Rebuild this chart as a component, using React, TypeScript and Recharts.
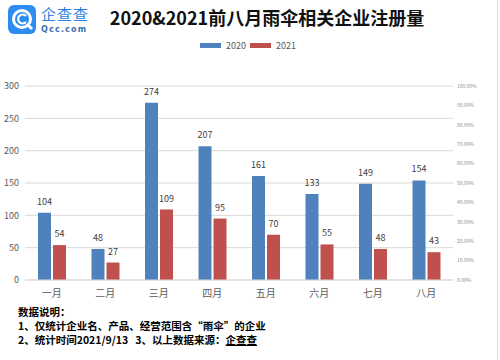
import React from 'react';
import { ComposedChart, Bar, Line, XAxis, YAxis, CartesianGrid, LabelList } from 'recharts';

const months = ['一月', '二月', '三月', '四月', '五月', '六月', '七月', '八月'];
const reg2020 = [104, 48, 274, 207, 161, 133, 149, 154];
const reg2021 = [54, 27, 109, 95, 70, 55, 48, 43];
const leftTicks = [0, 50, 100, 150, 200, 250, 300];
const rightTicks = [0, 0.1, 0.2, 0.3, 0.4, 0.5, 0.6, 0.7, 0.8, 0.9, 1];

const BLUE = '#4f81bd';
const RED = '#c0504d';
const FONT = '"Noto Sans CJK SC", "Noto Sans", sans-serif';

const chartData = months.map((m, i) => ({ month: m, y2020: reg2020[i], y2021: reg2021[i] }));

const Logo = () => (
  <div style={{ position: 'absolute', left: 8, top: 5 }}>
    <svg width={28} height={29}>
      <rect x={0} y={0} width={28} height={29} rx={6} fill="#2d8cf0" />
      <circle cx={14} cy={14} r={8.5} fill="none" stroke="#fff" strokeWidth={3} />
      <path d="M 18 11 A 4.5 4.5 0 1 0 18 17" fill="none" stroke="#fff" strokeWidth={2.2} />
      <line x1={19} y1={19} x2={24} y2={24} stroke="#fff" strokeWidth={3} />
    </svg>
    <div style={{ position: 'absolute', left: 33, top: 0, fontSize: 15, color: '#2d7fe0', fontFamily: FONT, lineHeight: '18px', whiteSpace: 'nowrap', letterSpacing: 1 }}>企查查</div>
    <div style={{ position: 'absolute', left: 33, top: 20, fontSize: 8, fontWeight: 'bold', color: '#3a6fb0', fontFamily: 'DejaVu Sans, sans-serif', lineHeight: '10px', letterSpacing: 1.2, whiteSpace: 'nowrap' }}>Qcc.com</div>
  </div>
);

const LegendItem = ({ color, label, left }: { color: string; label: string; left: number }) => (
  <div style={{ position: 'absolute', left, top: 39, display: 'flex', alignItems: 'center', fontFamily: FONT, fontSize: 9, color: '#595959' }}>
    <span style={{ display: 'inline-block', width: 21, height: 5, background: color, marginRight: 5 }} />
    {label}
  </div>
);

export default function App() {
  return (
    <div style={{ position: 'absolute', left: 0, top: 0, width: 500, height: 360, background: '#fff', overflow: 'hidden', fontFamily: FONT }}>
      <Logo />
      <div style={{ position: 'absolute', left: 0, width: 534, top: 5, textAlign: 'center', fontSize: 18, fontWeight: 'bold', color: '#111', lineHeight: '24px' }}>
        2020&amp;2021前八月雨伞相关企业注册量
      </div>
      <LegendItem color={BLUE} label="2020" left={200} />
      <LegendItem color={RED} label="2021" left={250} />

      <div style={{ position: 'absolute', left: 0, top: 0 }}>
        <ComposedChart width={500} height={360} data={chartData} margin={{ top: 86, right: 0, left: 0, bottom: 60 }} barCategoryGap={12} barGap={2}>
          <CartesianGrid yAxisId="left" vertical={false} stroke="#d9d9d9" />
          <XAxis dataKey="month" axisLine={{ stroke: '#d9d9d9' }} tickLine={false} height={20}
            tick={{ fontSize: 10, fill: '#595959', fontFamily: FONT }} tickMargin={4} />
          <YAxis yAxisId="left" width={25} domain={[0, 300]} ticks={leftTicks} axisLine={false} tickLine={false}
            tickSize={0} tickMargin={6} tick={{ fontSize: 9, fill: '#595959', fontFamily: FONT }} />
          <YAxis yAxisId="right" orientation="right" width={47} domain={[0, 1]} ticks={rightTicks} axisLine={false}
            tickLine={false} tickSize={0} tickMargin={4} allowDataOverflow
            tick={{ fontSize: 5, fill: '#8c8c8c', fontFamily: FONT }}
            tickFormatter={(v: number) => `${(v * 100).toFixed(2)}%`} />
          <Bar yAxisId="left" dataKey="y2020" fill={BLUE} barSize={13} isAnimationActive={false}>
            <LabelList dataKey="y2020" position="top" offset={8} style={{ fontSize: 9, fill: '#404040', fontFamily: FONT }} />
          </Bar>
          <Bar yAxisId="left" dataKey="y2021" fill={RED} barSize={13} isAnimationActive={false}>
            <LabelList dataKey="y2021" position="top" offset={8} style={{ fontSize: 9, fill: '#404040', fontFamily: FONT }} />
          </Bar>
          <Line yAxisId="right" dataKey="share" stroke="none" dot={false} activeDot={false} isAnimationActive={false} />
        </ComposedChart>
      </div>

      <div style={{ position: 'absolute', left: 18, top: 305, fontSize: 10.5, fontWeight: 'bold', color: '#000', lineHeight: '14px', whiteSpace: 'nowrap' }}>
        <div>数据说明：</div>
        <div>1、仅统计企业名、产品、经营范围含“雨伞”的企业</div>
        <div>2、统计时间2021/9/13&nbsp;&nbsp;&nbsp;3、以上数据来源：<span style={{ textDecoration: 'underline' }}>企查查</span></div>
      </div>
      <div style={{ position: 'absolute', left: 497, top: 0, width: 1, height: 360, background: '#e3e3e3' }} />
    </div>
  );
}
